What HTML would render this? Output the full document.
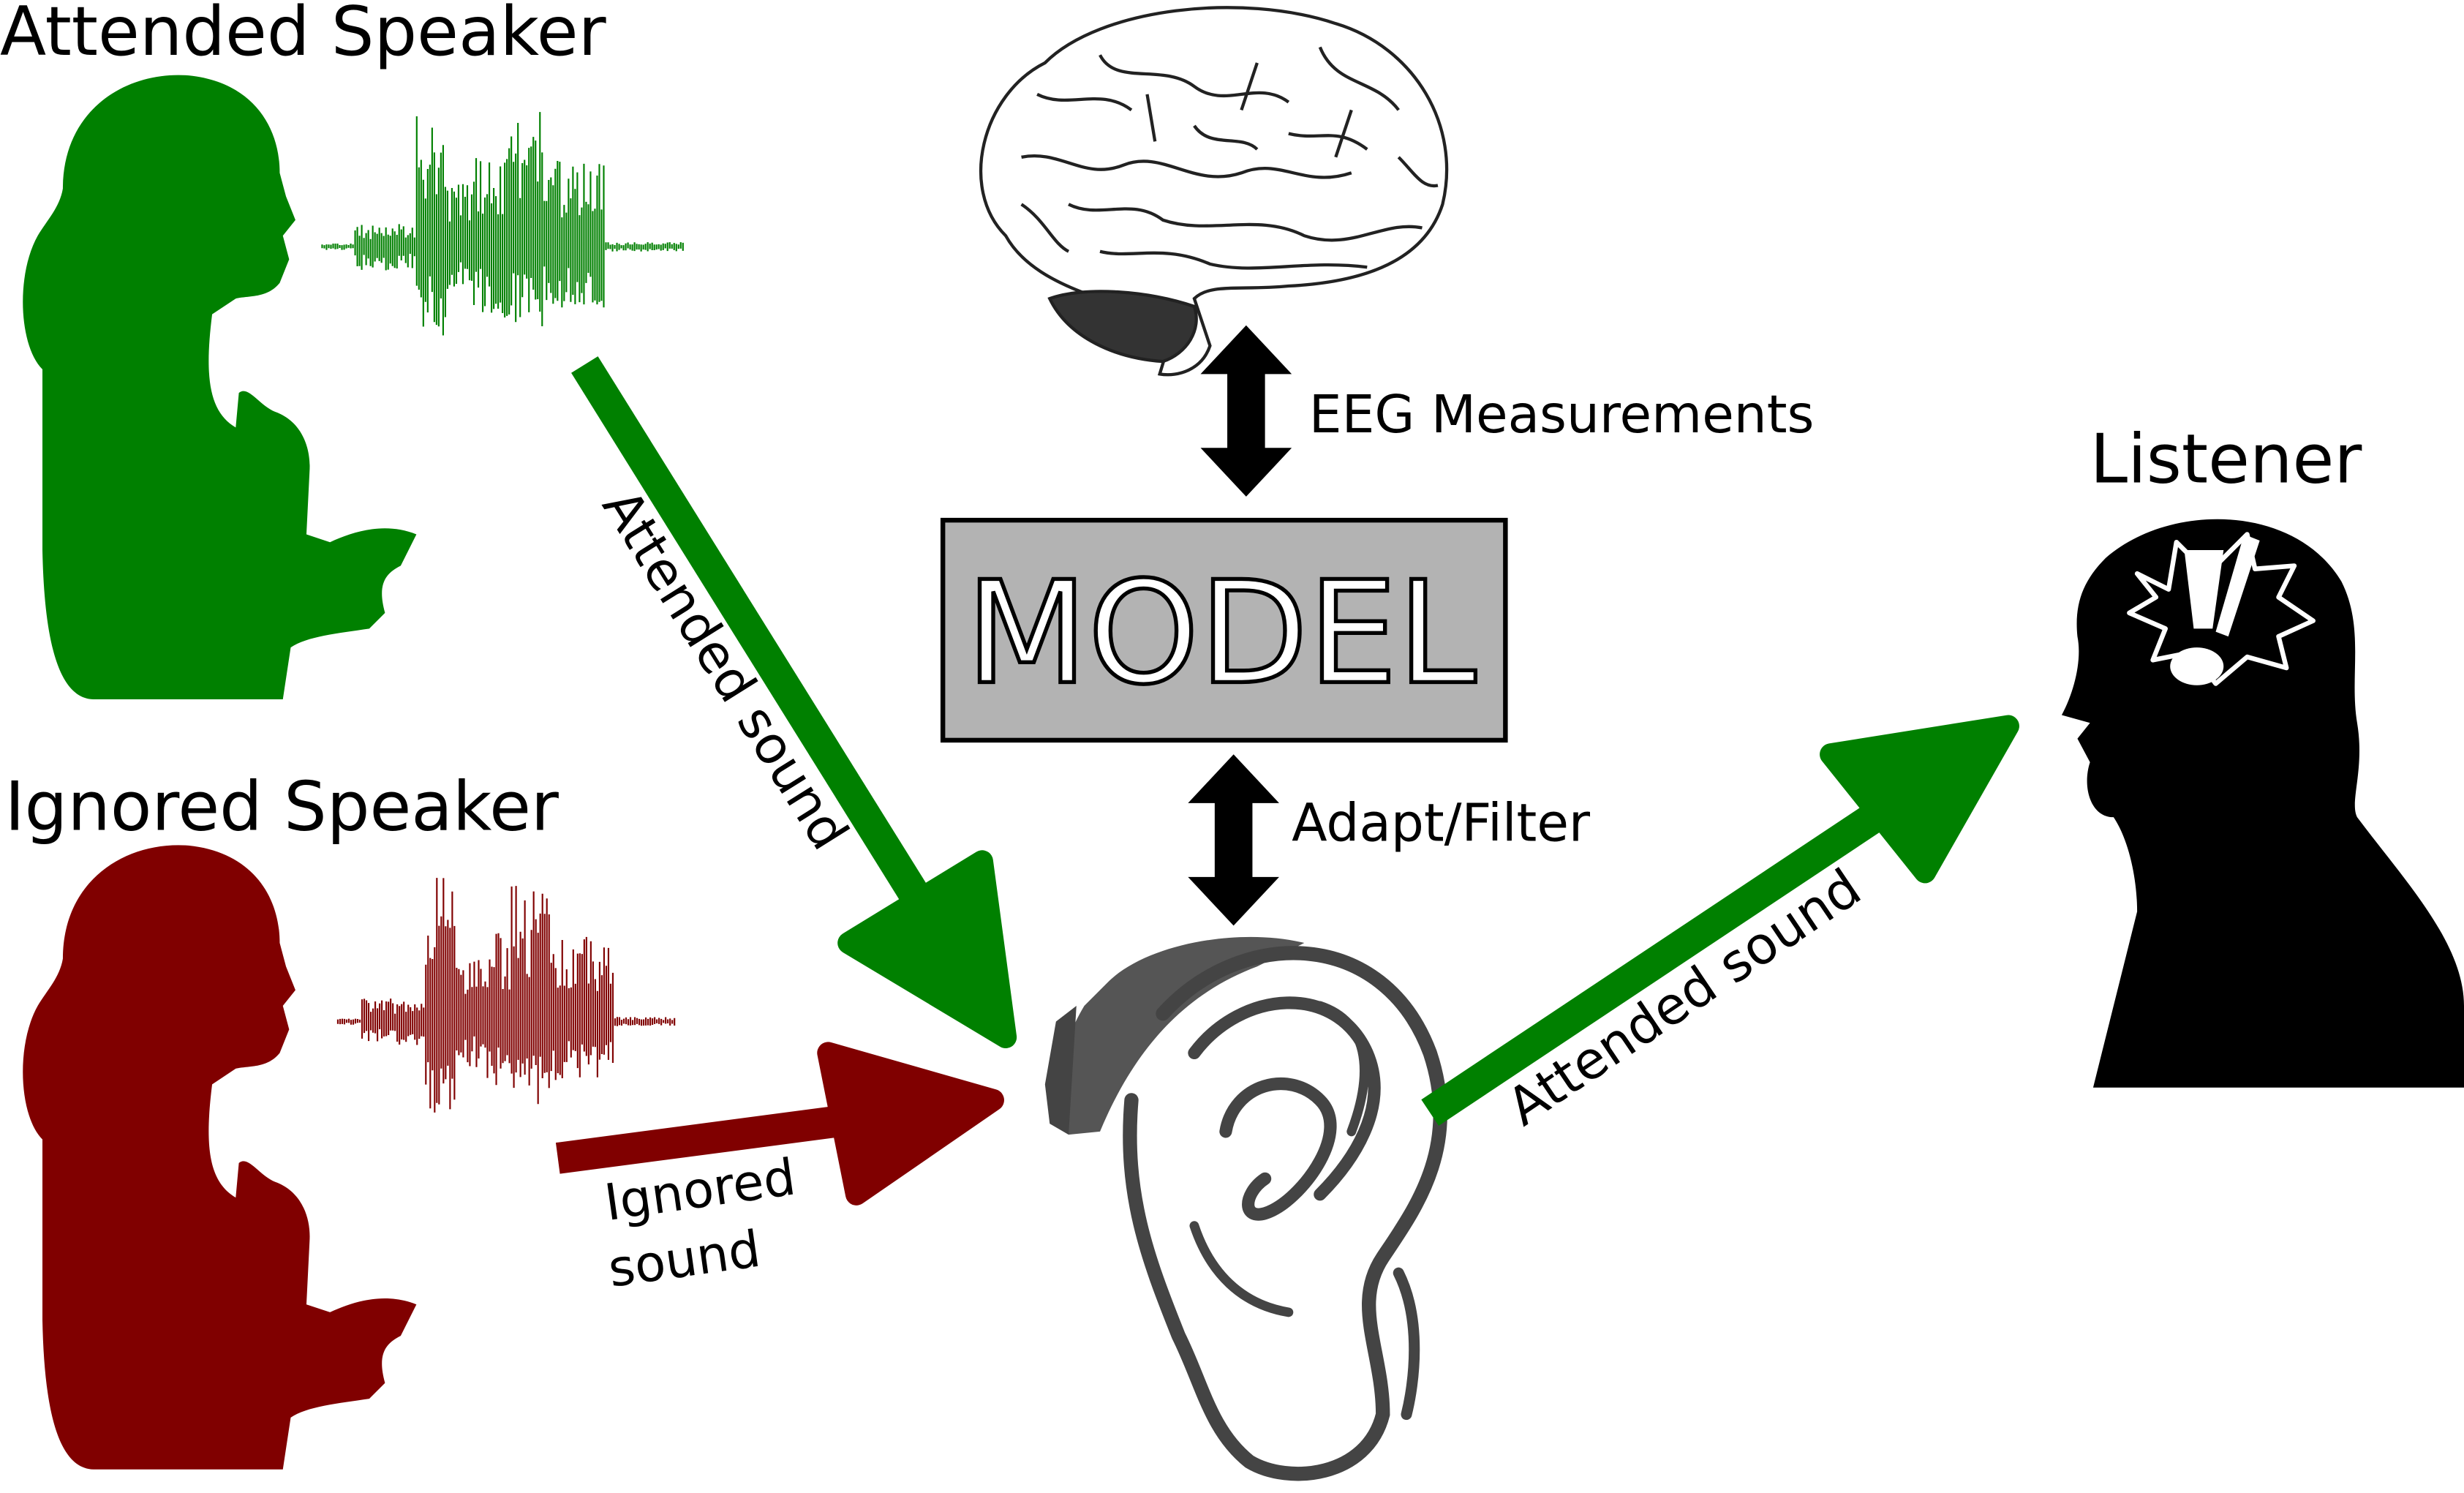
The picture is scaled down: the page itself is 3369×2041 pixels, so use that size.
<!DOCTYPE html>
<html><head><meta charset="utf-8"><style>
html,body{margin:0;padding:0;background:#fff;}
svg{display:block;}
text{font-family:"DejaVu Sans","Liberation Sans",sans-serif;}
</style></head><body>
<svg id="s" width="3369" height="2041" viewBox="0 0 1568 950" preserveAspectRatio="none" xmlns="http://www.w3.org/2000/svg">
<rect width="1568" height="950" fill="#fff"/>
<defs>
<path id="woman" d="M40,120 C40,70 80,45 120,48 C160,52 178,80 178,110 L182,125 188,140 180,150 184,165 178,180 C170,190 158,188 150,190 L135,200 C130,240 133,262 150,272 L152,250 C158,245 165,258 175,262 C192,268 198,285 197,300 L195,340 210,345 C225,338 245,332 265,340 L255,360 C245,365 240,372 245,390 L235,400 C215,403 195,405 185,412 L180,445 L60,445 C35,445 28,400 27,350 L27,235 C12,220 10,175 24,150 C30,140 38,132 40,120 Z"/>
</defs>
<text x="0" y="35" font-size="43">Attended Speaker</text>
<use href="#woman" fill="#008000"/>
<g id="wg" stroke="#008000" stroke-width="1" fill="none"></g>
<text x="3" y="528" font-size="43">Ignored Speaker</text>
<use href="#woman" fill="#800000" transform="translate(0,490)"/>
<g id="wr" stroke="#800000" stroke-width="1" fill="none"></g>

<line x1="372" y1="232" x2="595" y2="590" stroke="#008000" stroke-width="20"/>
<path d="M540,600 L625,548 L640,660 Z" fill="#008000" stroke="#008000" stroke-width="14" stroke-linejoin="round"/>
<text font-size="33" transform="translate(452,432) rotate(58)" text-anchor="middle">Attended sound</text>

<line x1="355" y1="737" x2="560" y2="710" stroke="#800000" stroke-width="20"/>
<path d="M527,670 L545,760 L632,700 Z" fill="#800000" stroke="#800000" stroke-width="14" stroke-linejoin="round"/>
<text font-size="32" transform="translate(447,768) rotate(-8)" text-anchor="middle">Ignored</text>
<text font-size="32" transform="translate(437,812) rotate(-8)" text-anchor="middle">sound</text>

<g fill="none" stroke="#222" stroke-width="2">
<path d="M640,150 C610,120 625,60 665,40 C700,5 790,-5 850,15 C900,30 930,80 918,130 C905,170 860,180 820,182 C790,185 770,180 760,190 L770,220 C765,235 750,240 738,238 L745,215 C735,205 715,200 700,190 C670,180 650,168 640,150 Z" fill="#fff"/>
<path d="M660,60 C680,70 700,55 720,70 M700,35 C710,55 740,40 760,55 C780,70 800,50 820,65 M840,30 C850,55 875,50 890,70 M650,100 C675,95 690,115 715,105 C740,95 760,120 790,110 C815,100 830,120 860,110 M680,130 C700,140 720,125 740,140 C770,150 800,135 830,150 C860,160 880,140 905,145 M760,80 C770,95 790,85 800,95 M820,85 C840,90 850,80 870,95 M700,160 C720,165 740,155 770,168 C800,175 830,165 870,170 M650,130 C665,140 670,155 680,160 M890,100 C900,110 905,120 915,118 M730,60 L735,90 M800,40 L790,70 M860,70 L850,100"/>
<path d="M668,190 C690,182 730,185 760,195 C765,210 755,225 740,230 C710,228 680,215 668,190 Z" fill="#333"/>
</g>

<path d="M793,207 L822,238 L805,238 L805,285 L822,285 L793,316 L764,285 L781,285 L781,238 L764,238 Z" fill="#000"/>
<text x="833" y="275" font-size="33">EEG Measurements</text>
<rect x="600" y="331" width="358" height="140" fill="#b3b3b3" stroke="#000" stroke-width="3"/>
<text x="777" y="434" font-size="90" text-anchor="middle" fill="#fff" stroke="#000" stroke-width="2.5">MODEL</text>
<path d="M785,480 L814,511 L797,511 L797,558 L814,558 L785,589 L756,558 L773,558 L773,511 L756,511 Z" fill="#000"/>
<text x="822" y="535" font-size="33">Adapt/Filter</text>

<g fill="none" stroke="#444" stroke-linecap="round">
<path d="M705,625 C730,600 790,590 830,600 L800,615 C760,630 725,660 700,720 L680,722 C670,700 672,670 690,640 Z" fill="#555" stroke="none"/>
<path d="M665,690 L672,650 L685,640 L680,722 L668,715 Z" fill="#444" stroke="none"/>
<path d="M740,645 C790,590 880,590 910,670 C930,730 900,770 880,800 C860,830 880,860 880,900 C870,940 820,945 795,930 C770,910 765,880 750,850 C730,800 715,760 720,700" stroke-width="9"/>
<path d="M760,670 C790,630 850,625 870,670 C885,705 860,740 840,760" stroke-width="8"/>
<path d="M780,720 C785,690 820,680 840,700 C860,720 830,760 810,770 C790,780 790,760 805,750" stroke-width="8"/>
<path d="M760,780 C770,810 790,830 820,835" stroke-width="6"/>
<path d="M890,810 C905,840 900,880 895,900" stroke-width="7"/>
<path d="M840,640 C870,650 875,680 860,720" stroke-width="6"/>
</g>

<line x1="910" y1="708" x2="1200" y2="515" stroke="#008000" stroke-width="20"/>
<path d="M1165,480 L1225,555 L1278,462 Z" fill="#008000" stroke="#008000" stroke-width="14" stroke-linejoin="round"/>
<text font-size="33" transform="translate(1078,644) rotate(-34)" text-anchor="middle">Attended sound</text>

<text x="1330" y="307" font-size="43">Listener</text>
<path d="M1340,355 C1380,320 1460,320 1490,370 C1505,400 1495,430 1500,460 C1505,490 1495,510 1500,520 C1530,560 1568,600 1568,640 L1568,692 L1332,692 L1360,580 C1360,560 1355,535 1345,520 C1330,520 1325,500 1330,485 L1322,470 L1330,460 L1312,455 C1320,440 1325,420 1322,405 C1320,385 1325,370 1340,355 Z" fill="#000"/>
<path d="M1360,365 L1380,375 L1385,345 L1405,365 L1430,340 L1435,362 L1460,360 L1450,380 L1472,395 L1450,405 L1455,425 L1430,418 L1410,435 L1395,415 L1370,420 L1378,400 L1355,390 L1372,380 Z" fill="#000" stroke="#fff" stroke-width="3" stroke-linejoin="round"/>
<path d="M1390,350 L1415,350 L1408,400 L1396,400 Z" fill="#fff"/>
<path d="M1428,340 L1438,344 L1418,405 L1410,402 Z" fill="#fff"/>
<ellipse cx="1398" cy="424" rx="17" ry="12" fill="#fff"/>
</svg>
<script>
function wave(id,x0,x1,cy,env){
  var g=document.getElementById(id),d="";
  for(var x=x0;x<=x1;x+=1.4){
    var e=env(x),r=Math.random(),up=e[0]*(0.3+0.7*r),dn=e[1]*(0.3+0.7*Math.random());
    d+="M"+x.toFixed(1)+","+(cy-up).toFixed(1)+"V"+(cy+dn).toFixed(1);
  }
  var p=document.createElementNS("http://www.w3.org/2000/svg","path");
  p.setAttribute("d",d);g.appendChild(p);
}
function env(x){
  if(x<225)return[2,2];
  if(x<265)return[15,15];
  if(x<285)return[95,60];
  if(x<300)return[40,30];
  if(x<320)return[60,45];
  if(x<345)return[90,55];
  if(x<385)return[55,40];
  return[3,3];
}
wave("wg",205,435,157,env);
wave("wr",215,430,650,function(x){return env(x-5);});
</script>
</body></html>
